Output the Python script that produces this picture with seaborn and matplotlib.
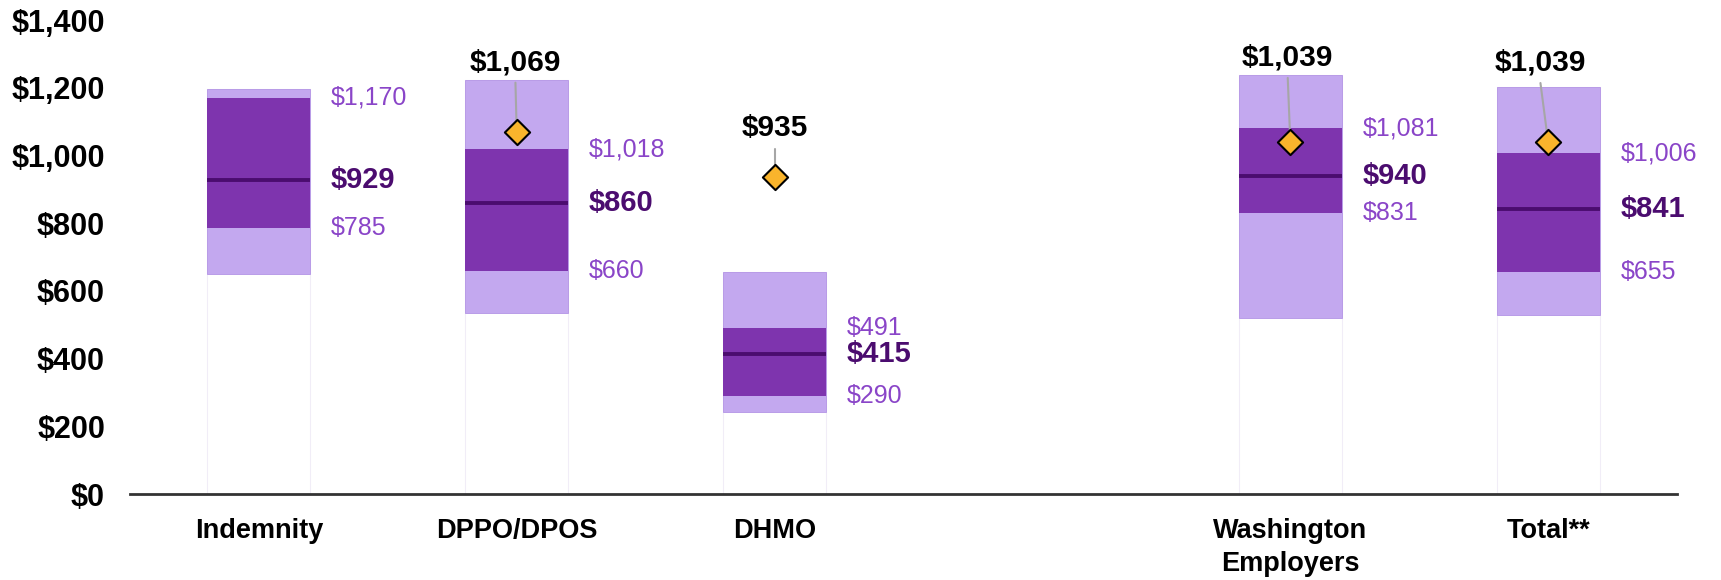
import numpy as np
import matplotlib
matplotlib.use("Agg")
import matplotlib.pyplot as plt
from matplotlib.ticker import FuncFormatter
import seaborn as sns

# annual dental cost per employee: 10th/25th/50th/75th/90th percentile + average
categories = ["Indemnity", "DPPO/DPOS", "DHMO", "Washington\nEmployers", "Total**"]
p10 = [651, 535, 244, 520, 529]
p25 = [785, 660, 290, 831, 655]
p50 = [929, 860, 415, 940, 841]
p75 = [1170, 1018, 491, 1081, 1006]
p90 = [1196, 1222, 657, 1237, 1203]
average = [np.nan, 1069, 935, 1039, 1039]

# layout: slot 3 left empty between plan types and the groups
pos = np.array([0, 1, 2, 4, 5])
avg_label_y = [np.nan, 1275, 1080, 1289, 1274]
avg_label_dx = [0, -0.005, 0, -0.01, -0.03]

LIGHT = "#c3a8ef"
DARK = "#7e34ae"
MED = "#4b0c6f"
LBL = "#8a45c8"

sns.set_theme(style="white")
plt.rcParams["font.family"] = ["Liberation Sans", "DejaVu Sans"]

fig = plt.figure(figsize=(17.21, 5.80), dpi=100)
ax = fig.add_axes([0.0755, 0.148, 0.899, 0.8175])

w = 0.4
lo = np.array(p10); hi = np.array(p90)
q1 = np.array(p25); q3 = np.array(p75)

# faint outline of the full bar down to zero
ax.bar(pos, hi, width=w, color="none", edgecolor="#f1edf7", linewidth=0.8, zorder=1)
ax.bar(pos, hi - lo, bottom=lo, width=w, color=LIGHT, edgecolor="#b394e6", linewidth=0.6, zorder=2)
ax.bar(pos, q3 - q1, bottom=q1, width=w, color=DARK, linewidth=0, zorder=3)
ax.hlines(p50, pos - w / 2, pos + w / 2, color=MED, linewidth=2.8, zorder=4)

for x, a, b, c in zip(pos, p75, p50, p25):
    ax.text(x + 0.28, a, f"${a:,}", color=LBL, fontsize=18, va="center", ha="left")
    ax.text(x + 0.28, b, f"${b:,}", color=MED, fontsize=21, fontweight="bold", va="center", ha="left")
    ax.text(x + 0.28, c, f"${c:,}", color=LBL, fontsize=18, va="center", ha="left")

# average diamonds with callout labels
for x, v, ly, dx in zip(pos, average, avg_label_y, avg_label_dx):
    if np.isnan(v):
        continue
    ax.plot([x + dx, x], [ly - 60, v], color="#a6a6a6", linewidth=1.5, zorder=5)
    ax.text(x + dx, ly, f"${v:,.0f}", color="black", fontsize=21.5, fontweight="bold",
            ha="center", va="center", zorder=6)

mask = ~np.isnan(average)
sns.scatterplot(x=pos[mask], y=np.array(average)[mask], marker="D", s=165,
                color="#f9b42c", edgecolor="black", linewidth=1.5, zorder=6, ax=ax)

ax.set_xlim(-0.5, 5.5)
ax.set_ylim(0, 1400)
ax.set_yticks(range(0, 1401, 200))
ax.yaxis.set_major_formatter(FuncFormatter(lambda v, p: f"${v:,.0f}"))
ax.set_xticks(pos)
ax.set_xticklabels(categories)
ax.tick_params(axis="y", length=0, pad=18, labelsize=22)
ax.tick_params(axis="x", length=0, pad=17, labelsize=19.5)
for t in ax.get_yticklabels() + ax.get_xticklabels():
    t.set_fontweight("bold")
    t.set_color("black")
for t in ax.get_xticklabels():
    t.set_linespacing(1.35)

sns.despine(ax=ax, left=True)
ax.spines["bottom"].set_color("#333333")
ax.spines["bottom"].set_linewidth(2)
ax.grid(False)

fig.savefig("out.png", dpi=100)
